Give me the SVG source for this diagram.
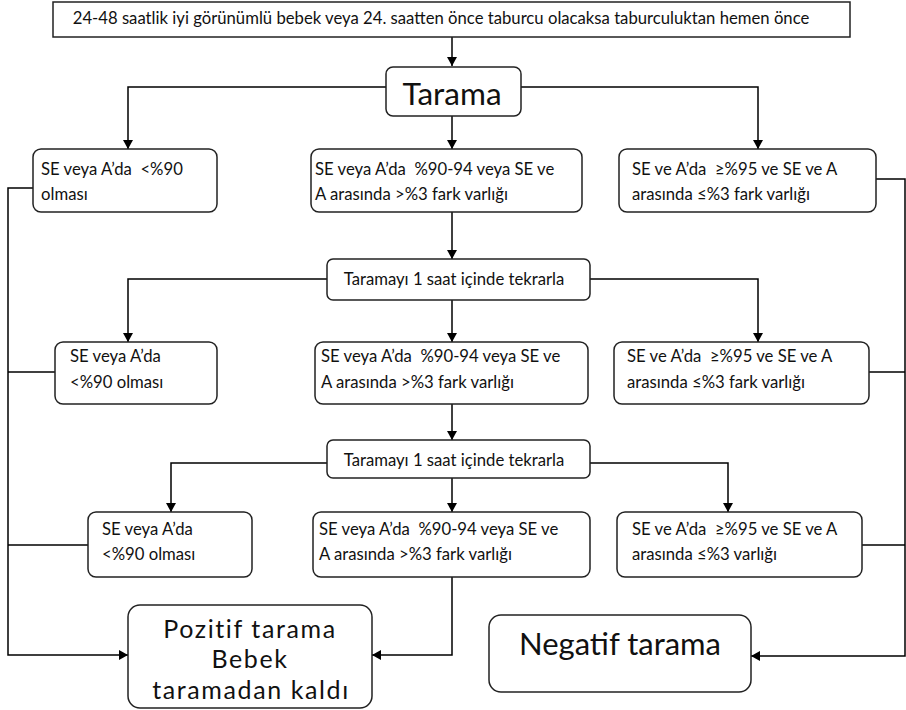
<svg xmlns="http://www.w3.org/2000/svg" width="906" height="710" viewBox="0 0 906 710">
<defs>
<marker id="ah" markerUnits="userSpaceOnUse" markerWidth="9" markerHeight="10" refX="9" refY="5" orient="auto">
<path d="M0,0 L9,5 L0,10 z" fill="#000"/>
</marker>
<style>
.box{fill:#fff;stroke:#222;stroke-width:1.5}
.t{font-family:Lato,"Open Sans",sans-serif;font-size:16.7px;fill:#111;white-space:pre}
.big{font-family:Lato,"Open Sans",sans-serif;fill:#111;text-anchor:middle}
.pz{font-size:25px;letter-spacing:1.6px}
.c{fill:none;stroke:#000;stroke-width:1.5}
.a{marker-end:url(#ah)}
</style>
</defs>
<rect width="906" height="710" fill="#fff"/>
<g id="connectors">
<path class="c a" d="M452,37 V66"/>
<path class="c a" d="M386,87 H128 V149"/>
<path class="c a" d="M452,116 V149"/>
<path class="c a" d="M521,87 H758 V149"/>
<path class="c a" d="M452,212 V259"/>
<path class="c a" d="M327,279 H128 V342"/>
<path class="c a" d="M452,300 V342"/>
<path class="c a" d="M590,279 H758 V342"/>
<path class="c a" d="M452,404 V440"/>
<path class="c a" d="M327,463 H171 V512"/>
<path class="c a" d="M452,478 V512"/>
<path class="c a" d="M590,463 H728 V512"/>
<path class="c a" d="M452,577 V655 H372"/>
<path class="c a" d="M33,188 H8 V655 H128"/>
<path class="c" d="M55,372 H8"/>
<path class="c" d="M88,545 H8"/>
<path class="c a" d="M876,179 H905 V656 H751"/>
<path class="c" d="M869,372 H905"/>
<path class="c" d="M862,545 H905"/>
</g>
<g id="start">
<rect class="box" x="53" y="2" width="797" height="35"/>
<text class="t" x="441" y="24" text-anchor="middle">24-48 saatlik iyi görünümlü bebek veya 24. saatten önce taburcu olacaksa taburculuktan hemen önce</text>
</g>
<g id="tarama">
<rect class="box" x="386" y="67" width="135" height="49" rx="7"/>
<text class="big" x="452" y="105" font-size="31.5">Tarama</text>
</g>
<g id="r1-left">
<rect class="box" x="33" y="149" width="184" height="63" rx="8"/>
<text class="t" x="41" y="175">SE veya A’da  &lt;%90</text>
<text class="t" x="41" y="200">olması</text>
</g>
<g id="r1-mid">
<rect class="box" x="311" y="149" width="271" height="63" rx="8"/>
<text class="t" x="315" y="175">SE veya A’da  %90-94 veya SE ve</text>
<text class="t" x="315" y="200">A arasında &gt;%3 fark varlığı</text>
</g>
<g id="r1-right">
<rect class="box" x="619" y="149" width="257" height="63" rx="8"/>
<text class="t" x="632" y="175">SE ve A’da  ≥%95 ve SE ve A</text>
<text class="t" x="632" y="200">arasında ≤%3 fark varlığı</text>
</g>
<g id="repeat1">
<rect class="box" x="327" y="259" width="263" height="41" rx="6"/>
<text class="t" x="454" y="285" text-anchor="middle">Taramayı 1 saat içinde tekrarla</text>
</g>
<g id="r2-left">
<rect class="box" x="55" y="342" width="162" height="62" rx="8"/>
<text class="t" x="70" y="362">SE veya A’da</text>
<text class="t" x="70" y="388">&lt;%90 olması</text>
</g>
<g id="r2-mid">
<rect class="box" x="315" y="342" width="273" height="62" rx="8"/>
<text class="t" x="321" y="362">SE veya A’da  %90-94 veya SE ve</text>
<text class="t" x="321" y="388">A arasında &gt;%3 fark varlığı</text>
</g>
<g id="r2-right">
<rect class="box" x="614" y="342" width="255" height="62" rx="8"/>
<text class="t" x="627" y="362">SE ve A’da  ≥%95 ve SE ve A</text>
<text class="t" x="627" y="388">arasında ≤%3 fark varlığı</text>
</g>
<g id="repeat2">
<rect class="box" x="327" y="440" width="263" height="38" rx="6"/>
<text class="t" x="454" y="466" text-anchor="middle">Taramayı 1 saat içinde tekrarla</text>
</g>
<g id="r3-left">
<rect class="box" x="88" y="512" width="164" height="65" rx="8"/>
<text class="t" x="102" y="535">SE veya A’da</text>
<text class="t" x="102" y="560">&lt;%90 olması</text>
</g>
<g id="r3-mid">
<rect class="box" x="313" y="512" width="277" height="65" rx="8"/>
<text class="t" x="319" y="535">SE veya A’da  %90-94 veya SE ve</text>
<text class="t" x="319" y="560">A arasında &gt;%3 fark varlığı</text>
</g>
<g id="r3-right">
<rect class="box" x="617" y="512" width="245" height="65" rx="8"/>
<text class="t" x="632" y="535">SE ve A’da  ≥%95 ve SE ve A</text>
<text class="t" x="632" y="560">arasında ≤%3 varlığı</text>
</g>
<g id="pozitif">
<rect class="box" x="128" y="605" width="244" height="103" rx="12"/>
<text class="big pz" x="250" y="638">Pozitif tarama</text>
<text class="big pz" x="250" y="668">Bebek</text>
<text class="big pz" x="251" y="699">taramadan kaldı</text>
</g>
<g id="negatif">
<rect class="box" x="489" y="615" width="262" height="77" rx="12"/>
<text class="big" x="620" y="655" font-size="31">Negatif tarama</text>
</g>
</svg>
